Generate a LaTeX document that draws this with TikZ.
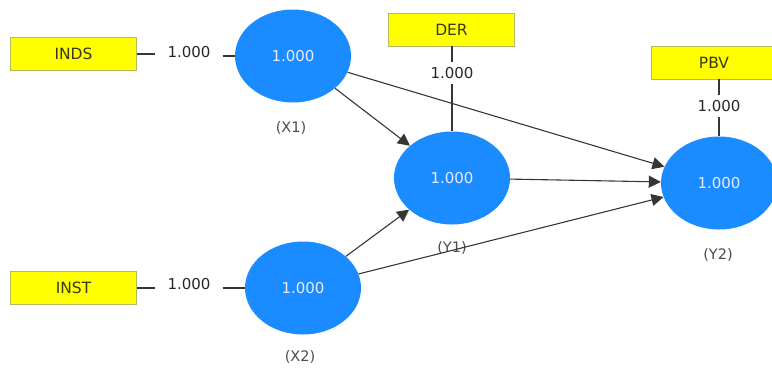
\documentclass[tikz,border=0pt]{standalone}
\usepackage{fontspec}
\setmainfont{DejaVu Sans}
\usetikzlibrary{shapes.geometric,arrows.meta}
\definecolor{lv}{HTML}{1A8CFF}
\definecolor{ybox}{HTML}{FFFF00}
\definecolor{yborder}{HTML}{B8B860}
\definecolor{ytext}{HTML}{3A3A10}
\definecolor{edge}{HTML}{363636}
\tikzset{
  ind/.style={draw=yborder, line width=0.8pt, fill=ybox, minimum width=126pt, minimum height=33pt, inner sep=0pt, text=ytext, font=\fontsize{15.5}{15.5}\selectfont},
  latent/.style={ellipse, fill=lv, text=white!92!blue, minimum width=116pt, minimum height=93pt, inner sep=0pt, font=\fontsize{15}{15}\selectfont},
  loadh/.style={inner xsep=12pt, inner ysep=2pt, text=black!85, font=\fontsize{15}{15}\selectfont},
  loadv/.style={inner xsep=2pt, inner ysep=5pt, text=black!85, font=\fontsize{15}{15}\selectfont},
  lvname/.style={text=black!70, font=\fontsize{14.5}{14.5}\selectfont},
  ln/.style={draw=edge, line width=1.3pt},
  path/.style={draw=edge, line width=1.1pt, -{Triangle[length=12pt,width=12pt]}}
}
\begin{document}
\begin{tikzpicture}[x=1pt,y=-1pt]
\useasboundingbox (0,0) rectangle (772,368);
\begin{scope}
\clip (0,0) rectangle (772,368);
% latent variables
\node[latent] (x1) at (293,56) {1.000};
\node[latent] (x2) at (303,288) {1.000};
\node[latent] (y1) at (452,178) {1.000};
\node[latent] (y2) at (719,183) {1.000};
\node[lvname] (nx1) at (291,128) {(X1)};
\node[lvname] (nx2) at (300,357) {(X2)};
\node[lvname] (ny1) at (452,248) {(Y1)};
\node[lvname] (ny2) at (718,255) {(Y2)};
% indicators
\node[ind] (inds) at (73.5,54) {INDS};
\node[ind] (inst) at (73.5,288) {INST};
\node[ind] (der) at (451.5,29.5) {DER};
\node[ind] (pbv) at (714,62.5) {PBV};
% loadings
\node[loadh] (l1) at (189,52) {1.000};
\node[loadh] (l2) at (189,284) {1.000};
\node[loadv] (l3) at (452,73) {1.000};
\node[loadv] (l4) at (719,106) {1.000};
\draw[ln] (inds.east) -- (inds.east -| l1.west);
\draw[ln] (l1.east |- x1.west) -- (x1.west);
\draw[ln] (inst.east) -- (inst.east -| l2.west);
\draw[ln] (l2.east |- x2.west) -- (x2.west);
\draw[ln] (l3.north |- der.south) -- (l3.north);
\draw[ln] (l3.south) -- (y1.north);
\draw[ln] (l4.north |- pbv.south) -- (l4.north);
\draw[ln] (l4.south) -- (l4.south |- y2.north);
% structural paths
\draw[path] (x1) -- (y1);
\draw[path] (x1) -- (y2);
\draw[path] (y1) -- (y2);
\draw[path] (x2) -- (y1);
\draw[path] (x2) -- (y2);
\end{scope}
\end{tikzpicture}
\end{document}
